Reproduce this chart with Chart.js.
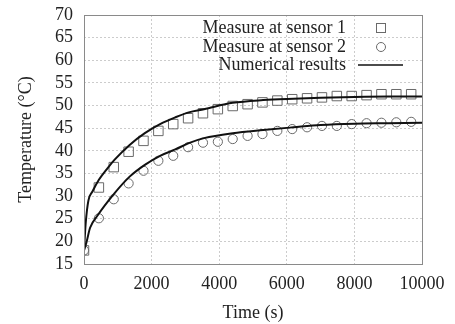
<!doctype html>
<html>
<head>
<meta charset="UTF-8">
<script src="https://cdn.jsdelivr.net/npm/chart.js"></script>
<style>
  html, body { margin: 0; padding: 0; background: #fff; }
  #wrap { width: 455px; height: 324px; }
</style>
</head>
<body>
<div id="wrap"><canvas id="chart"></canvas></div>
<script>
// measurement times (s) and values (°C)
const measTimes = [0, 440, 880, 1320, 1760, 2200, 2640, 3080, 3520, 3960, 4400, 4840,
                   5280, 5720, 6160, 6600, 7040, 7480, 7920, 8360, 8800, 9240, 9680];
const sensor1 = [18, 31.9, 36.4, 39.8, 42.2, 44.4, 45.9, 47.2, 48.3, 49.2, 49.9, 50.3,
                 50.7, 51.1, 51.4, 51.6, 51.8, 52.1, 52.1, 52.3, 52.5, 52.5, 52.5];
const sensor2 = [18, 25.1, 29.3, 32.8, 35.6, 37.8, 38.9, 40.8, 41.8, 42.0, 42.6, 43.3,
                 43.7, 44.4, 44.8, 45.2, 45.5, 45.5, 45.9, 46.1, 46.2, 46.3, 46.4];

// numerical results
const numTimes1 = [0, 50, 130, 250, 440, 700, 900, 1350, 1800, 2250, 2700, 3100, 3550,
                   4400, 5300, 6200, 7000, 8000, 9000, 10000];
const numer1 = [18, 24, 29, 31, 33.6, 36.2, 38, 41.3, 43.9, 45.9, 47.4, 48.5, 49.2,
                50.6, 51.2, 51.5, 51.7, 51.9, 52.0, 52.0];
const numTimes2 = [0, 80, 180, 400, 900, 1350, 1800, 2250, 2700, 3100, 3550,
                   4400, 5300, 6200, 7000, 8000, 9000, 10000];
const numer2 = [18, 20, 23, 25.7, 30.6, 34.3, 36.9, 38.9, 40.3, 41.7, 42.8,
                43.9, 44.6, 45.2, 45.7, 46.0, 46.1, 46.2];

const legendLabels = ['Measure at sensor 1', 'Measure at sensor 2', 'Numerical results'];

const toXY = (xs, ys) => xs.map((x, i) => ({x: x, y: ys[i]}));
const serif = '"Liberation Serif", "DejaVu Serif", serif';

// frame around plot + legend in top right corner
const framePlugin = {
  id: 'frame',
  afterDraw(chart) {
    const {ctx, chartArea: a} = chart;
    ctx.save();
    ctx.strokeStyle = '#8a8a8a';
    ctx.lineWidth = 1;
    ctx.setLineDash([]);
    ctx.strokeRect(a.left + 0.5, a.top + 0.5, a.right - a.left, a.bottom - a.top);

    ctx.font = '18px ' + serif;
    ctx.fillStyle = '#222';
    ctx.textAlign = 'right';
    ctx.textBaseline = 'middle';
    const tx = 346, sx = 381;
    const rows = [28, 47, 65];
    legendLabels.forEach((t, i) => ctx.fillText(t, tx, rows[i]));

    ctx.strokeStyle = '#6a6a6a';
    ctx.lineWidth = 1;
    ctx.strokeRect(sx - 4.5, rows[0] - 4.5, 9, 9);
    ctx.beginPath();
    ctx.arc(sx, rows[1], 4.5, 0, Math.PI * 2);
    ctx.stroke();
    ctx.strokeStyle = '#111';
    ctx.lineWidth = 1.5;
    ctx.beginPath();
    ctx.moveTo(358, rows[2]);
    ctx.lineTo(403, rows[2]);
    ctx.stroke();
    ctx.restore();
  }
};

new Chart(document.getElementById('chart'), {
  type: 'scatter',
  data: {
    datasets: [
      {
        label: 'Numerical results',
        data: toXY(numTimes1, numer1),
        showLine: true,
        borderColor: '#111',
        borderWidth: 2,
        pointRadius: 0,
        cubicInterpolationMode: 'monotone'
      },
      {
        label: 'Numerical results 2',
        data: toXY(numTimes2, numer2),
        showLine: true,
        borderColor: '#111',
        borderWidth: 2,
        pointRadius: 0,
        cubicInterpolationMode: 'monotone'
      },
      {
        label: legendLabels[0],
        data: toXY(measTimes, sensor1),
        pointStyle: 'rect',
        pointRadius: 6.7,
        borderColor: '#6a6a6a',
        backgroundColor: 'rgba(0,0,0,0)',
        borderWidth: 1
      },
      {
        label: legendLabels[1],
        data: toXY(measTimes, sensor2),
        pointStyle: 'circle',
        pointRadius: 4.6,
        borderColor: '#6a6a6a',
        backgroundColor: 'rgba(0,0,0,0)',
        borderWidth: 1
      }
    ]
  },
  options: {
    responsive: true,
    maintainAspectRatio: false,
    animation: false,
    layout: { padding: { left: 0, right: 33, top: 15, bottom: 0 } },
    plugins: {
      legend: { display: false },
      tooltip: { enabled: false }
    },
    scales: {
      x: {
        type: 'linear',
        min: 0,
        max: 10000,
        afterFit(scale) {
          scale.height = 60;
          scale.paddingLeft = 0;
          scale.paddingRight = 0;
        },
        ticks: {
          stepSize: 2000,
          autoSkip: false,
          color: '#222',
          font: { family: serif, size: 18 },
          padding: 9,
          maxRotation: 0,
          callback: v => String(v)
        },
        grid: { color: '#cccccc', drawTicks: false },
        border: { display: false, dash: [2, 2] },
        title: {
          display: true,
          text: 'Time (s)',
          color: '#222',
          font: { family: serif, size: 18 },
          padding: { top: 4, bottom: 0 }
        }
      },
      y: {
        min: 15,
        max: 70,
        afterFit(scale) {
          scale.width = 84;
          scale.paddingTop = 0;
          scale.paddingBottom = 0;
        },
        ticks: {
          stepSize: 5,
          autoSkip: false,
          color: '#222',
          font: { family: serif, size: 18 },
          padding: 11
        },
        grid: { color: '#cccccc', drawTicks: false },
        border: { display: false, dash: [2, 2] },
        title: {
          display: true,
          text: 'Temperature (°C)',
          color: '#222',
          font: { family: serif, size: 18 },
          padding: { top: 15, bottom: 4 }
        }
      }
    }
  },
  plugins: [framePlugin]
});
</script>
</body>
</html>
